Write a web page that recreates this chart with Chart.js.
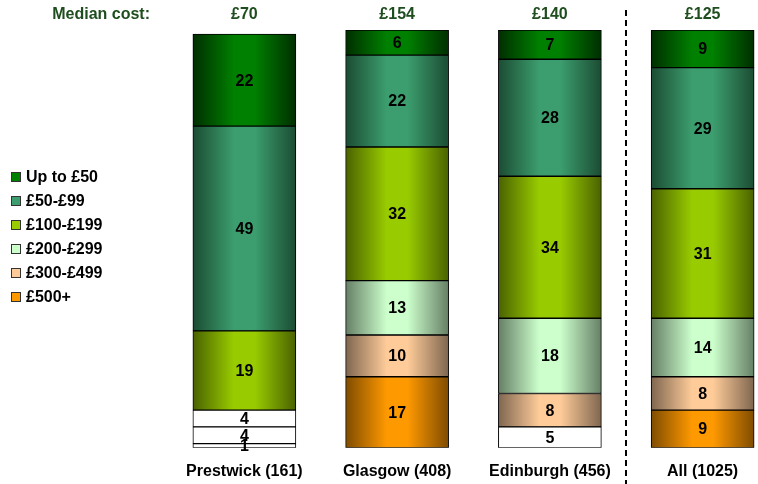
<!DOCTYPE html>
<html>
<head>
<meta charset="utf-8">
<script src="https://cdn.jsdelivr.net/npm/chart.js@4/dist/chart.umd.min.js"></script>
<style>
  html, body { margin: 0; padding: 0; background: #fff; }
  #wrap { width: 758px; height: 484px; overflow: hidden; position: relative; }
  #wrap canvas { position: absolute; left: 0; top: 0; }
</style>
</head>
<body>
<div id="wrap"><canvas id="costChart" width="800" height="500"></canvas></div>
<script>
// Cost bands, top of the bar to the bottom
const bands = ['Up to £50', '£50-£99', '£100-£199', '£200-£299', '£300-£499', '£500+'];
const places = ['Prestwick (161)', 'Glasgow (408)', 'Edinburgh (456)', 'All (1025)'];
const medians = ['£70', '£154', '£140', '£125'];

// percentage of respondents in each band, per place
const upTo50   = [22, 6, 7, 9];
const from50   = [49, 22, 28, 29];
const from100  = [19, 32, 34, 31];
const from200  = [4, 13, 18, 14];
const from300  = [4, 10, 8, 8];
const over500  = [1, 17, 5, 9];

// light centre / dark edge for the shaded bars
const bandColours = [
    { mid: '#008000', edge: '#002e00' },
    { mid: '#3c9e6e', edge: '#1b4c33' },
    { mid: '#99cc00', edge: '#4a6200' },
    { mid: '#ccffcc', edge: '#667f66' },
    { mid: '#ffcc99', edge: '#7f6650' },
    { mid: '#ff9900', edge: '#7f4c00' }
];
// segments shown without shading (band index, place index)
const plainCells = ['3-0', '4-0', '5-0', '5-2'];

const BAR_W = 103;
const FONT = 'Liberation Sans, Arial, sans-serif';

function shade(ctx, band) {
    if (plainCells.includes(band + '-' + ctx.dataIndex)) return '#ffffff';
    const chart = ctx.chart;
    const xs = chart.scales.x;
    const c = bandColours[band];
    if (!xs || !chart.chartArea) return c.mid;
    const cx = xs.getPixelForValue(ctx.dataIndex);
    const g = chart.ctx.createLinearGradient(cx - BAR_W / 2, 0, cx + BAR_W / 2, 0);
    g.addColorStop(0, c.edge);
    g.addColorStop(0.4, c.mid);
    g.addColorStop(0.6, c.mid);
    g.addColorStop(1, c.edge);
    return g;
}

// stacked from the bottom, so the top band goes last
const seriesData = [upTo50, from50, from100, from200, from300, over500];
const datasets = seriesData.map((vals, i) => ({
    label: bands[i],
    data: vals,
    backgroundColor: ctx => shade(ctx, i),
    borderColor: '#000000',
    borderWidth: 1,
    borderSkipped: false,
    barThickness: BAR_W
})).reverse();

// numbers inside the segments, median row, divider and legend
const decorations = {
    id: 'decorations',
    afterDatasetsDraw(chart) {
        const ctx = chart.ctx;
        const xs = chart.scales.x;
        ctx.save();
        ctx.font = 'bold 16px ' + FONT;
        ctx.textAlign = 'center';
        ctx.textBaseline = 'middle';
        ctx.fillStyle = '#000';
        chart.data.datasets.forEach((ds, di) => {
            chart.getDatasetMeta(di).data.forEach((el, j) => {
                ctx.fillText(String(ds.data[j]), el.x, (el.y + el.base) / 2 + 1);
            });
        });

        // median cost row
        ctx.fillStyle = '#1e4d1e';
        ctx.textAlign = 'right';
        ctx.fillText('Median cost:', 150, 15);
        ctx.textAlign = 'center';
        medians.forEach((m, i) => ctx.fillText(m, xs.getPixelForValue(i), 15));

        // dashed divider before the overall bar
        const dx = Math.round((xs.getPixelForValue(2) + xs.getPixelForValue(3)) / 2);
        ctx.strokeStyle = '#000';
        ctx.lineWidth = 2;
        ctx.setLineDash([6, 4]);
        ctx.beginPath();
        ctx.moveTo(dx, 10);
        ctx.lineTo(dx, 484);
        ctx.stroke();
        ctx.setLineDash([]);

        // legend
        ctx.textAlign = 'left';
        bands.forEach((b, i) => {
            const y = 177 + i * 24;
            ctx.fillStyle = bandColours[i].mid;
            ctx.fillRect(11, y - 5, 9, 10);
            ctx.strokeStyle = '#333';
            ctx.lineWidth = 1;
            ctx.strokeRect(11.5, y - 4.5, 9, 9);
            ctx.fillStyle = '#000';
            ctx.fillText(b, 26, y + 1);
        });
        ctx.restore();
    }
};

new Chart(document.getElementById('costChart'), {
    type: 'bar',
    data: { labels: places, datasets: datasets },
    options: {
        responsive: false,
        animation: false,
        layout: { padding: { left: 168, right: 21, top: 30, bottom: 5 } },
        plugins: { legend: { display: false }, tooltip: { enabled: false } },
        scales: {
            x: {
                stacked: true,
                grid: { display: false, drawTicks: false },
                border: { display: false },
                ticks: { color: '#000', padding: 14, font: { family: FONT, size: 16, weight: 'bold' } }
            },
            y: { stacked: true, display: false, min: 0, max: 100 }
        }
    },
    plugins: [decorations]
});
</script>
</body>
</html>
